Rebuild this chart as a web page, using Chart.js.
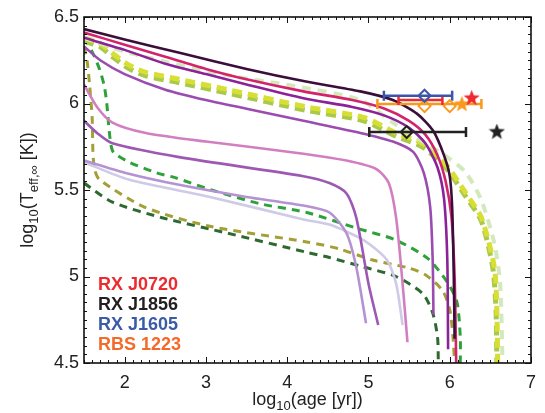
<!DOCTYPE html>
<html>
<head>
<meta charset="utf-8">
<script src="https://cdn.jsdelivr.net/npm/chart.js@4"></script>
<style>
  html, body { margin: 0; padding: 0; background: #fff; }
  #wrap { width: 545px; height: 413px; }
</style>
</head>
<body>
<div id="wrap"><canvas id="coolChart" width="545" height="413"></canvas></div>
<script>
// cooling curves, x = log10(age [yr]), y = log10(Teff,inf [K])
const darkAge = [1.5, 2.0, 2.7, 3.5, 4.2, 4.9, 5.3, 5.6, 5.8, 5.93, 6.0, 6.03, 6.05, 6.06];
const darkTemp = [6.43, 6.37, 6.29, 6.2, 6.13, 6.07, 6.02, 5.94, 5.84, 5.7, 5.58, 5.4, 5.0, 4.64];

const redAge = [1.5, 2.0, 2.5, 3.0, 3.5, 4.2, 4.8, 5.2, 5.5, 5.7, 5.85, 5.95, 6.02, 6.06, 6.08];
const redTemp = [6.41, 6.34, 6.27, 6.2, 6.14, 6.07, 6.02, 5.97, 5.9, 5.82, 5.7, 5.55, 5.35, 5.0, 4.5];

const purpleCAge = [1.5, 2.0, 2.5, 3.0, 3.5, 4.2, 4.8, 5.2, 5.5, 5.7, 5.85, 5.93, 5.97, 5.98];
const purpleCTemp = [6.38, 6.31, 6.23, 6.17, 6.11, 6.03, 5.98, 5.93, 5.86, 5.77, 5.63, 5.45, 5.1, 4.58];

const purpleDAge = [1.5, 1.7, 2.0, 2.5, 3.0, 3.5, 4.2, 4.9, 5.3, 5.55, 5.68, 5.76, 5.79, 5.8];
const purpleDTemp = [6.33, 6.25, 6.17, 6.08, 6.02, 5.97, 5.9, 5.83, 5.78, 5.72, 5.6, 5.4, 5.1, 4.78];

const pinkAge = [1.5, 1.66, 1.85, 2.26, 3.0, 4.2, 4.73, 5.1, 5.25, 5.34, 5.42, 5.48];
const pinkTemp = [6.11, 5.98, 5.89, 5.83, 5.78, 5.71, 5.67, 5.62, 5.54, 5.34, 4.96, 4.62];

const purpleFAge = [1.5, 1.66, 1.85, 2.67, 4.2, 4.52, 4.73, 4.85, 5.0, 5.12];
const purpleFTemp = [5.9, 5.83, 5.77, 5.69, 5.58, 5.54, 5.48, 5.34, 4.96, 4.72];

const lilacAge = [1.5, 2.0, 2.67, 3.5, 4.2, 4.52, 4.73, 4.85, 4.97];
const lilacTemp = [5.67, 5.6, 5.53, 5.46, 5.41, 5.37, 5.25, 5.055, 4.73];

const lavenderAge = [1.5, 2.05, 3.05, 4.2, 4.52, 4.94, 5.22, 5.34, 5.42];
const lavenderTemp = [5.66, 5.56, 5.46, 5.33, 5.3, 5.21, 5.1, 4.96, 4.72];

const greenAge = [1.5, 1.6, 1.69, 1.75, 1.78, 1.82, 1.86, 2.06, 2.39, 2.63, 3.07, 3.67, 4.24, 4.85, 5.34, 5.74, 5.98, 6.09, 6.13, 6.13];
const greenTemp = [6.38, 6.3, 6.2, 6.1, 6.0, 5.8, 5.72, 5.66, 5.6, 5.57, 5.5, 5.42, 5.37, 5.28, 5.21, 5.1, 4.96, 4.85, 4.65, 4.5];

const oliveAge = [1.5, 1.54, 1.57, 1.6, 1.61, 1.63, 1.69, 2.25, 3.05, 4.24, 4.64, 5.05, 5.49, 5.7, 5.91, 6.0, 6.04, 6.06];
const oliveTemp = [6.33, 6.24, 6.1, 5.92, 5.72, 5.62, 5.56, 5.4, 5.29, 5.2, 5.16, 5.095, 5.05, 5.01, 4.92, 4.81, 4.65, 4.5];

const forestAge = [1.5, 1.85, 2.46, 3.27, 4.24, 4.52, 4.94, 5.34, 5.67, 5.79, 5.85, 5.86];
const forestTemp = [5.54, 5.43, 5.34, 5.25, 5.14, 5.11, 5.055, 5.0, 4.9, 4.79, 4.65, 4.5];

const paleGreenAge = [1.5, 2.0, 2.7, 3.3, 4.1, 4.9, 5.3, 5.7, 6.0, 6.2, 6.39, 6.55, 6.62, 6.65];
const paleGreenTemp = [6.38, 6.3, 6.22, 6.16, 6.1, 6.02, 5.89, 5.77, 5.68, 5.6, 5.44, 5.19, 4.96, 4.5];

const yellowAge = [1.5, 1.69, 1.85, 2.06, 2.26, 2.67, 3.27, 4.24, 4.94, 5.34, 5.66, 5.91, 6.03, 6.2, 6.39, 6.55, 6.58, 6.59];
const yellowTemp = [6.38, 6.35, 6.29, 6.22, 6.18, 6.14, 6.08, 5.98, 5.92, 5.83, 5.77, 5.67, 5.6, 5.48, 5.34, 5.05, 4.8, 4.5];

const limeAge = [1.5, 1.69, 1.85, 2.06, 2.26, 2.67, 3.27, 4.24, 4.94, 5.34, 5.66, 5.91, 6.03, 6.2, 6.39, 6.53, 6.57, 6.58];
const limeTemp = [6.36, 6.33, 6.27, 6.2, 6.16, 6.12, 6.06, 5.96, 5.9, 5.81, 5.75, 5.65, 5.58, 5.46, 5.32, 5.05, 4.8, 4.5];

// observed stars: [name, log age lo, log age hi, log T]
const barNames = ["RX J1605", "RX J0720", "RBS 1223", "RX J1856"];
const barLo = [5.19, 5.37, 5.11, 5.01];
const barHi = [6.03, 5.91, 6.39, 6.2];
const barTemp = [6.045, 6.02, 5.997, 5.835];
const barColors = ["#3a56a8", "#ee2a2e", "#f8981d", "#222222"];

const diamondAge = [5.69, 5.69, 6.0, 5.47];
const diamondTemp = [6.045, 5.985, 5.985, 5.835];
const diamondColors = ["#3a56a8", "#f8981d", "#f8981d", "#222222"];

const starAge = [6.27, 6.15, 6.58];
const starTemp = [6.03, 5.995, 5.835];
const starColors = ["#ee2a2e", "#f8981d", "#222222"];

const legendNames = ["RX J0720", "RX J1856", "RX J1605", "RBS 1223"];
const legendColors = ["#ee2a2e", "#231f20", "#3a5ba8", "#f26b2a"];

const xTicks = [2, 3, 4, 5, 6, 7];
const yTicks = [4.5, 5, 5.5, 6, 6.5];

const FONT = '"Liberation Sans", Arial, Helvetica, sans-serif';

function pts(ages, temps) {
  return ages.map((a, i) => ({ x: a, y: temps[i] }));
}

function makeStar(color, size) {
  const c = document.createElement("canvas");
  c.width = size; c.height = size;
  const g = c.getContext("2d");
  const r = size / 2, ri = r * 0.42;
  g.beginPath();
  for (let i = 0; i < 10; i++) {
    const ang = -Math.PI / 2 + i * Math.PI / 5;
    const rr = i % 2 === 0 ? r : ri;
    g.lineTo(r + rr * Math.cos(ang), r + rr * Math.sin(ang));
  }
  g.closePath();
  g.fillStyle = color;
  g.fill();
  return c;
}

function curve(label, ages, temps, color, width, dash) {
  return {
    label: label,
    data: pts(ages, temps),
    showLine: true,
    borderColor: color,
    borderWidth: width,
    borderDash: dash || [],
    pointRadius: 0,
    tension: 0.25,
    fill: false
  };
}

const datasets = [];

// markers first so they sit on top
starAge.forEach((a, i) => {
  datasets.push({
    label: "star" + i,
    data: [{ x: a, y: starTemp[i] }],
    pointStyle: makeStar(starColors[i], 17),
    pointRadius: 8
  });
});
diamondAge.forEach((a, i) => {
  datasets.push({
    label: "diamond" + i,
    data: [{ x: a, y: diamondTemp[i] }],
    pointStyle: "rectRot",
    pointRadius: 6,
    borderColor: diamondColors[i],
    backgroundColor: "rgba(255,255,255,0)",
    borderWidth: 2
  });
});
barLo.forEach((lo, i) => {
  datasets.push({
    label: barNames[i],
    data: [{ x: lo, y: barTemp[i] }, { x: barHi[i], y: barTemp[i] }],
    showLine: true,
    borderColor: barColors[i],
    backgroundColor: barColors[i],
    borderWidth: 2.5,
    pointStyle: "line",
    rotation: 90,
    pointRadius: 5,
    pointBorderWidth: 2.5
  });
});

datasets.push(curve("dark", darkAge, darkTemp, "#3b0d3a", 2.6));
datasets.push(curve("red", redAge, redTemp, "#d3246b", 2.6));
datasets.push(curve("purpleC", purpleCAge, purpleCTemp, "#8c2298", 2.6));
datasets.push(curve("paleGreen", paleGreenAge, paleGreenTemp, "#d3e8bd", 4, [9, 7]));
datasets.push(curve("yellow", yellowAge, yellowTemp, "#d7df34", 5, [10, 6]));
datasets.push(curve("lime", limeAge, limeTemp, "#a9c94a", 5, [10, 6]));
datasets.push(curve("purpleD", purpleDAge, purpleDTemp, "#9a4cb0", 2.6));
datasets.push(curve("pink", pinkAge, pinkTemp, "#d27fc2", 2.6));
datasets.push(curve("purpleF", purpleFAge, purpleFTemp, "#9c58b3", 2.6));
datasets.push(curve("lilac", lilacAge, lilacTemp, "#b592d2", 2.6));
datasets.push(curve("lavender", lavenderAge, lavenderTemp, "#cfcae7", 2.6));
datasets.push(curve("green", greenAge, greenTemp, "#2ea23a", 3, [8, 6]));
datasets.push(curve("olive", oliveAge, oliveTemp, "#a2a036", 3, [8, 6]));
datasets.push(curve("forest", forestAge, forestTemp, "#2e6a30", 3, [8, 6]));

// text with subscripts, parts = [[text, isSub], ...]
function drawSubText(ctx, parts, size, cx, baseY) {
  const big = size + "px " + FONT;
  const small = Math.round(size * 0.7) + "px " + FONT;
  let total = 0;
  parts.forEach(p => { ctx.font = p[1] ? small : big; total += ctx.measureText(p[0]).width; });
  let x = cx - total / 2;
  parts.forEach(p => {
    ctx.font = p[1] ? small : big;
    ctx.fillText(p[0], x, p[1] ? baseY + size * 0.3 : baseY);
    x += ctx.measureText(p[0]).width;
  });
}

const framePlugin = {
  id: "framePlugin",
  afterDatasetsDraw(chart) {
    const { ctx, chartArea: a, scales } = chart;
    const x = scales.x, y = scales.y;
    ctx.save();
    ctx.strokeStyle = "#111";
    ctx.lineWidth = 1;
    ctx.beginPath();
    for (let i = 15; i <= 70; i++) {
      const px = Math.round(x.getPixelForValue(i / 10)) + 0.5;
      const len = i % 10 === 0 ? 6 : 3;
      ctx.moveTo(px, a.bottom); ctx.lineTo(px, a.bottom - len);
      ctx.moveTo(px, a.top); ctx.lineTo(px, a.top + len);
    }
    for (let i = 90; i <= 130; i++) {
      const py = Math.round(y.getPixelForValue(i / 20)) + 0.5;
      const len = i % 10 === 0 ? 6 : 3;
      ctx.moveTo(a.left, py); ctx.lineTo(a.left + len, py);
      ctx.moveTo(a.right, py); ctx.lineTo(a.right - len, py);
    }
    ctx.stroke();
    ctx.lineWidth = 1.6;
    ctx.strokeRect(a.left, a.top, a.right - a.left, a.bottom - a.top);

    // observed source names
    ctx.font = "bold 18px " + FONT;
    ctx.textAlign = "left";
    ctx.textBaseline = "alphabetic";
    legendNames.forEach((n, i) => {
      ctx.fillStyle = legendColors[i];
      ctx.fillText(n, 98, 290 + i * 20);
    });

    // axis titles
    ctx.fillStyle = "#222";
    drawSubText(ctx, [["log", false], ["10", true], ["(age [yr])", false]], 18, (a.left + a.right) / 2, 405);
    ctx.translate(33, (a.top + a.bottom) / 2);
    ctx.rotate(-Math.PI / 2);
    drawSubText(ctx, [["log", false], ["10", true], ["(T", false], ["eff,\u221E", true], [" [K])", false]], 18, 0, 0);
    ctx.restore();
  }
};

new Chart(document.getElementById("coolChart"), {
  type: "scatter",
  data: { datasets: datasets },
  options: {
    responsive: false,
    animation: false,
    layout: { padding: { top: 17, right: 8, left: 0, bottom: 0 } },
    plugins: {
      legend: { display: false },
      tooltip: { enabled: false }
    },
    scales: {
      x: {
        type: "linear",
        min: 1.5,
        max: 7,
        afterBuildTicks: s => { s.ticks = xTicks.map(v => ({ value: v })); },
        afterFit: s => { s.height = 50; },
        grid: { display: false, drawTicks: false },
        border: { display: false },
        ticks: {
          padding: 9,
          maxRotation: 0,
          autoSkip: false,
          color: "#222",
          font: { family: FONT, size: 18 },
          callback: v => String(v)
        }
      },
      y: {
        type: "linear",
        min: 4.5,
        max: 6.5,
        afterBuildTicks: s => { s.ticks = yTicks.map(v => ({ value: v })); },
        afterFit: s => { s.width = 84; },
        grid: { display: false, drawTicks: false },
        border: { display: false },
        ticks: {
          padding: 5,
          autoSkip: false,
          color: "#222",
          font: { family: FONT, size: 18 },
          callback: v => String(v)
        }
      }
    }
  },
  plugins: [framePlugin]
});
</script>
</body>
</html>
